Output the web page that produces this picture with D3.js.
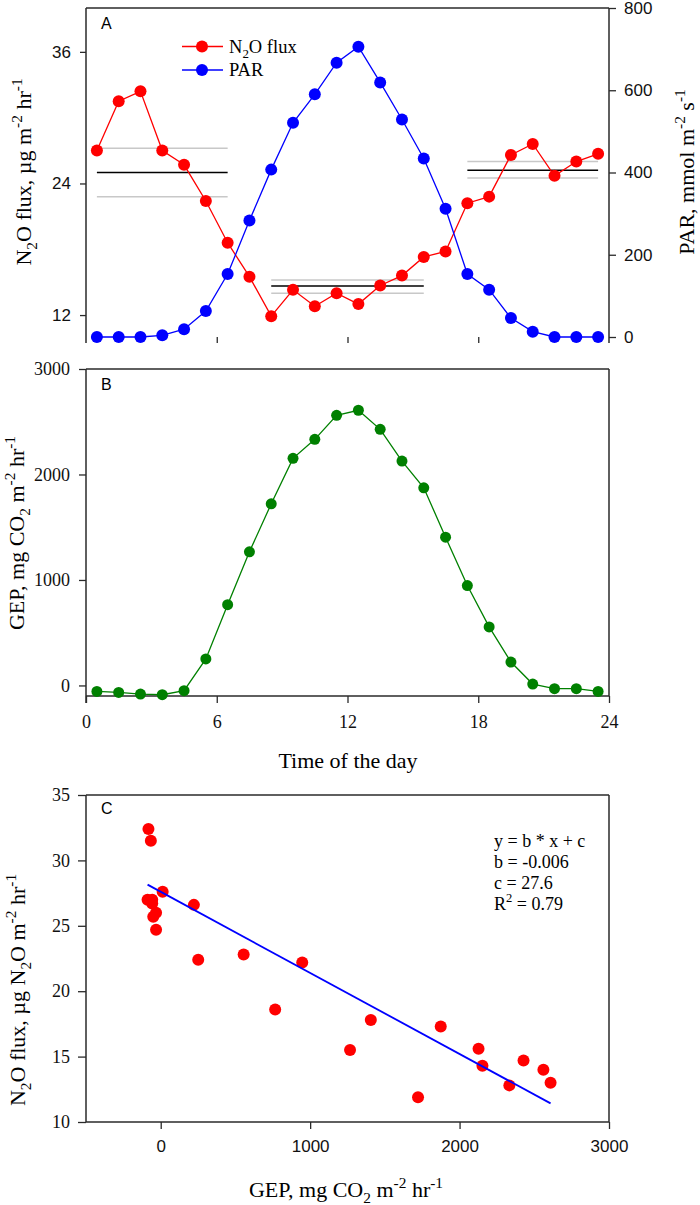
<!DOCTYPE html>
<html><head><meta charset="utf-8">
<script src="https://cdn.jsdelivr.net/npm/d3@7"></script>
<style>body{margin:0;background:#fff} svg{display:block}</style>
</head><body>
<svg id="c" width="700" height="1205"></svg>
<script>
// ---------- DATA ----------
const hours = [0.5,1.5,2.5,3.5,4.5,5.5,6.5,7.5,8.5,9.5,10.5,11.5,12.5,13.5,14.5,15.5,16.5,17.5,18.5,19.5,20.5,21.5,22.5,23.5];
const n2oFlux = [27.0,31.5,32.4,27.0,25.7,22.4,18.6,15.5,11.9,14.3,12.8,14.0,13.0,14.7,15.6,17.3,17.8,22.2,22.8,26.6,27.6,24.7,26.0,26.7];
const par = [0,0,0,4,19,63,153,283,407,521,590,667,706,619,529,434,312,153,115,46,13,0,0,0];
const gep = [-57,-66,-82,-88,-50,251,766,1267,1722,2153,2333,2561,2609,2428,2127,1874,1406,947,555,222,13,-31,-31,-57];
const periodStart = [0.5,8.5,17.5];
const periodEnd = [6.5,15.5,23.5];
const periodMean = [25.0,14.65,25.2];
const periodLow = [22.8,14.0,24.5];
const periodHigh = [27.2,15.2,26.0];
const hourTicks = [0,6,12,18,24];
const n2oTicks = [12,24,36];
const parTicks = [0,200,400,600,800];
const gepTicks = [0,1000,2000,3000];
const scatterXTicks = [0,1000,2000,3000];
const scatterYTicks = [10,15,20,25,30,35];
const fitB = -0.0062, fitC = 27.6;
const fitText = ["y = b * x + c","b = -0.006","c = 27.6"];
const fitR2 = "0.79";

// ---------- SETUP ----------
const svg = d3.select("#c");
const SERIF = "'Liberation Serif','Times New Roman',serif";
const SANS = "'Liberation Sans',Arial,sans-serif";
const FRAME = "#2a2a2a";
const fmt = d3.format("d");

function rich(sel, parts){
  let off = 0;
  parts.forEach(([t,m])=>{
    const target = m===1 ? -0.42 : m===-1 ? 0.28 : 0;
    const ts = sel.append("tspan").text(t);
    if(m!==0){ ts.attr("font-size","70%").attr("dy", ((target-off)/0.7)+"em"); }
    else { ts.attr("dy", (target-off)+"em"); }
    off = target;
  });
  return sel;
}
function styleAxis(g, font, size){
  g.attr("font-size",size).attr("font-family",font);
  g.selectAll("path").remove();
  g.selectAll("line").attr("stroke",FRAME).attr("stroke-width",1.3);
  g.selectAll("text").attr("font-family",font).attr("font-size",size).attr("fill","#111");
}
function line(x1,y1,x2,y2,c,w){
  svg.append("line").attr("x1",x1).attr("y1",y1).attr("x2",x2).attr("y2",y2)
    .attr("stroke",c||FRAME).attr("stroke-width",w||1.5);
}

// ---------- PANEL A ----------
const L=86, R=609;
const xA = d3.scaleLinear([0,24],[L,R]);
const yA = d3.scaleLinear([10,40],[337,8]);
const yP = d3.scaleLinear([0,800],[337,8]);

periodStart.forEach((s,i)=>{
  [[periodHigh[i],"#c8c8c8"],[periodLow[i],"#c8c8c8"],[periodMean[i],"#000"]].forEach(([v,c])=>{
    svg.append("line").attr("x1",xA(s)).attr("x2",xA(periodEnd[i]))
      .attr("y1",yA(v)).attr("y2",yA(v)).attr("stroke",c).attr("stroke-width",1.5);
  });
});
svg.append("path").attr("d",d3.line().x((d,i)=>xA(hours[i])).y(d=>yA(d))(n2oFlux)).attr("fill","none").attr("stroke","#ff0000").attr("stroke-width",1.3);
svg.selectAll(".rA").data(n2oFlux).enter().append("circle")
  .attr("cx",(d,i)=>xA(hours[i])).attr("cy",d=>yA(d)).attr("r",6).attr("fill","#ff0000");
svg.append("path").attr("d",d3.line().x((d,i)=>xA(hours[i])).y(d=>yP(d))(par)).attr("fill","none").attr("stroke","#0000ff").attr("stroke-width",1.3);
svg.selectAll(".bA").data(par).enter().append("circle")
  .attr("cx",(d,i)=>xA(hours[i])).attr("cy",d=>yP(d)).attr("r",6).attr("fill","#0000ff");

line(L,8,R,8); line(L,8,L,343); line(R,8,R,343);
const axL = svg.append("g").attr("transform",`translate(${L},0)`).call(d3.axisLeft(yA).tickValues(n2oTicks).tickSize(6).tickPadding(9).tickFormat(fmt));
styleAxis(axL,SANS,17);
const axR = svg.append("g").attr("transform",`translate(${R},0)`).call(d3.axisRight(yP).tickValues(parTicks).tickSize(7).tickPadding(8).tickFormat(fmt));
styleAxis(axR,SANS,17);
const axBA = svg.append("g").attr("transform",`translate(0,337)`).call(d3.axisBottom(xA).tickValues([6,12,18]).tickSize(6).tickFormat(""));
styleAxis(axBA,SANS,17);

svg.append("text").attr("x",101).attr("y",29).attr("font-family",SANS).attr("font-size",16).text("A");

[[46.5,"#ff0000",[["N",0],["2",-1],["O flux",0]]],[70,"#0000ff",[["PAR",0]]]].forEach(([y,c,t])=>{
  line(182,y,223,y,c,1.3);
  svg.append("circle").attr("cx",202).attr("cy",y).attr("r",6).attr("fill",c);
  rich(svg.append("text").attr("x",229).attr("y",y+6).attr("font-family",SERIF).attr("font-size",18.5),t);
});

rich(svg.append("text").attr("transform","translate(31,172) rotate(-90)").attr("text-anchor","middle")
  .attr("font-family",SERIF).attr("font-size",22),
  [["N",0],["2",-1],["O flux, µg m",0],["-2",1],[" hr",0],["-1",1]]);
rich(svg.append("text").attr("transform","translate(694,172) rotate(-90)").attr("text-anchor","middle")
  .attr("font-family",SERIF).attr("font-size",22),
  [["PAR, mmol m",0],["-2",1],[" s",0],["-1",1]]);

// ---------- PANEL B ----------
const yB = d3.scaleLinear([-100,3000],[696,369]);
line(L,369,R,369); line(R,369,R,696); line(L,369,L,703); line(L,696,R,696);
svg.append("path").attr("d",d3.line().x((d,i)=>xA(hours[i])).y(d=>yB(d))(gep)).attr("fill","none").attr("stroke","#008000").attr("stroke-width",1.3);
svg.selectAll(".gB").data(gep).enter().append("circle")
  .attr("cx",(d,i)=>xA(hours[i])).attr("cy",d=>yB(d)).attr("r",5.5).attr("fill","#008000");
const axBL = svg.append("g").attr("transform",`translate(${L},0)`).call(d3.axisLeft(yB).tickValues(gepTicks).tickSize(7).tickPadding(9).tickFormat(fmt));
styleAxis(axBL,SERIF,18);
const axBB = svg.append("g").attr("transform",`translate(0,696)`).call(d3.axisBottom(xA).tickValues(hourTicks).tickSize(7).tickPadding(12).tickFormat(fmt));
styleAxis(axBB,SERIF,18);
svg.append("text").attr("x",101).attr("y",390).attr("font-family",SANS).attr("font-size",16).text("B");
rich(svg.append("text").attr("transform","translate(24,533) rotate(-90)").attr("text-anchor","middle")
  .attr("font-family",SERIF).attr("font-size",22),
  [["GEP, mg CO",0],["2",-1],[" m",0],["-2",1],[" hr",0],["-1",1]]);
svg.append("text").attr("x",348).attr("y",768).attr("text-anchor","middle").attr("font-family",SERIF).attr("font-size",22).text("Time of the day");

// ---------- PANEL C ----------
const xC = d3.scaleLinear([-500,3000],[L,R]);
const yC = d3.scaleLinear([10,35],[1122,795]);
line(L,795,R,795); line(R,795,R,1122); line(L,795,L,1122); line(L,1122,R,1122);
const axCL = svg.append("g").attr("transform",`translate(${L},0)`).call(d3.axisLeft(yC).tickValues(scatterYTicks).tickSize(8).tickPadding(8).tickFormat(fmt));
styleAxis(axCL,SERIF,18);
const axCB = svg.append("g").attr("transform",`translate(0,1122)`).call(d3.axisBottom(xC).tickValues(scatterXTicks).tickSize(7).tickPadding(11).tickFormat(fmt));
styleAxis(axCB,SANS,17);
svg.selectAll(".sC").data(gep).enter().append("circle")
  .attr("cx",d=>xC(d)).attr("cy",(d,i)=>yC(n2oFlux[i])).attr("r",6).attr("fill","#ff0000");
const gx = d3.extent(gep);
svg.append("line").attr("x1",xC(gx[0])).attr("y1",yC(fitC+fitB*gx[0]))
  .attr("x2",xC(gx[1])).attr("y2",yC(fitC+fitB*gx[1])).attr("stroke","#0000ff").attr("stroke-width",1.8);
svg.append("text").attr("x",101).attr("y",814).attr("font-family",SANS).attr("font-size",16).text("C");
fitText.forEach((t,i)=>{
  svg.append("text").attr("x",494).attr("y",847+i*21).attr("font-family",SERIF).attr("font-size",18).text(t);
});
rich(svg.append("text").attr("x",494).attr("y",847+3*21).attr("font-family",SERIF).attr("font-size",18),
  [["R",0],["2",1],[" = "+fitR2,0]]);
rich(svg.append("text").attr("transform","translate(25,990) rotate(-90)").attr("text-anchor","middle")
  .attr("font-family",SERIF).attr("font-size",22),
  [["N",0],["2",-1],["O flux, µg N",0],["2",-1],["O m",0],["-2",1],[" hr",0],["-1",1]]);
rich(svg.append("text").attr("x",346).attr("y",1197).attr("text-anchor","middle").attr("font-family",SERIF).attr("font-size",22),
  [["GEP, mg CO",0],["2",-1],[" m",0],["-2",1],[" hr",0],["-1",1]]);
</script>
</body></html>
